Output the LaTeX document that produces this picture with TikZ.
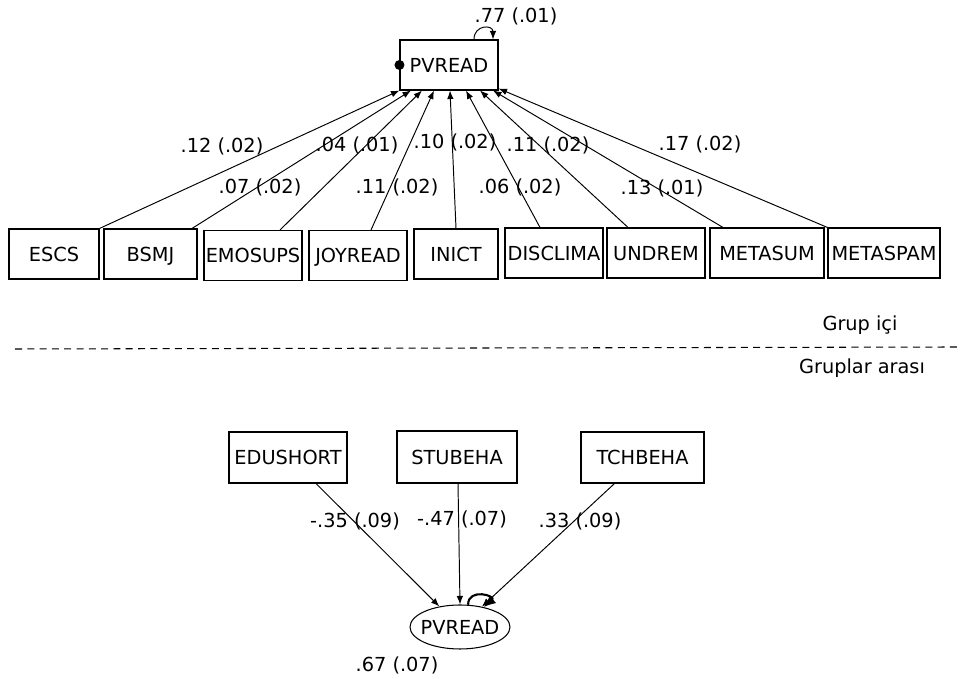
\documentclass[tikz,border=0pt]{standalone}
\usepackage{fontspec}
\setmainfont{DejaVu Sans}
\usepackage{tikz}
\usetikzlibrary{arrows.meta,positioning,calc,shapes.geometric}

\begin{document}
\begin{tikzpicture}[>={Latex[length=1.7mm,width=1.3mm]},every node/.style={font=\fontsize{11}{13}\selectfont},
  var/.style={draw,line width=0.6pt,minimum height=1cm,inner sep=1pt,text height=8pt,text depth=0pt},
  path/.style={->,line width=0.55pt}]
\useasboundingbox (0,0) rectangle (19.2,13.58);
% within level
\node[var,minimum width=1.96cm] (pv) at (8.98,12.28) {PVREAD};
\fill (pv.west) circle (0.1);
\draw[path] ($(pv.north)+(0.5,0)$) .. controls +(0,0.3) and +(0,0.3) .. ($(pv.north)+(0.88,0)$);
\node (r2w) at (10.32,13.26) {.77 (.01)};
\node[var,minimum width=1.8cm] (escs) at (1.08,8.5) {ESCS};
\node[var,minimum width=1.86cm] (bsmj) at (3.01,8.5) {BSMJ};
\node[var,minimum width=1.96cm] (emosups) at (5.06,8.47) {EMOSUPS};
\node[var,minimum width=1.96cm] (joyread) at (7.16,8.47) {JOYREAD};
\node[var,minimum width=1.68cm] (inict) at (9.12,8.5) {INICT};
\node[var,minimum width=1.96cm] (disclima) at (11.08,8.52) {DISCLIMA};
\node[var,minimum width=1.96cm] (undrem) at (13.12,8.52) {UNDREM};
\node[var,minimum width=2.28cm] (metasum) at (15.34,8.52) {METASUM};
\node[var,minimum width=2.24cm] (metaspam) at (17.68,8.52) {METASPAM};
\draw[path] (escs.north east) -- (pv.south west);
\draw[path] ($(bsmj.north)+(0.83,0)$) -- ($(pv.south)+(-0.76,0)$);
\draw[path] ($(emosups.north)+(0.54,0)$) -- ($(pv.south)+(-0.54,0)$);
\draw[path] ($(joyread.north)+(0.26,0)$) -- ($(pv.south)+(-0.3,0)$);
\draw[path] (inict.north) -- ($(pv.south)+(0.02,0)$);
\draw[path] ($(disclima.north)+(-0.28,0)$) -- ($(pv.south)+(0.34,0)$);
\draw[path] ($(undrem.north)+(-0.56,0)$) -- ($(pv.south)+(0.62,0)$);
\draw[path] ($(metasum.north)+(-0.88,0)$) -- ($(pv.south)+(0.88,0)$);
\draw[path] (metaspam.north west) -- ($(pv.south east)+(0,0.04)$);
\node (b1) at (4.44,10.66) {.12 (.02)};
\node (b3) at (7.14,10.68) {.04 (.01)};
\node (b5) at (9.1,10.74) {.10 (.02)};
\node (b7) at (10.96,10.68) {.11 (.02)};
\node (b9) at (14.0,10.7) {.17 (.02)};
\node (b2) at (5.2,9.84) {.07 (.02)};
\node (b4) at (7.94,9.84) {.11 (.02)};
\node (b6) at (10.4,9.84) {.06 (.02)};
\node (b8) at (13.24,9.82) {.13 (.01)};
% split
\node (within) at (17.2,7.08) {Grup içi};
\draw[dash pattern=on 4pt off 3pt,line width=0.6pt] (0.3,6.6) coordinate (dl) -- (19.2,6.64) coordinate (dr);
\node (between) at (17.24,6.22) {Gruplar arası};
% between level
\node[var,minimum width=2.36cm,minimum height=1.02cm] (edushort) at (5.76,4.43) {EDUSHORT};
\node[var,minimum width=2.4cm,minimum height=1.04cm] (stubeha) at (9.14,4.44) {STUBEHA};
\node[var,minimum width=2.46cm,minimum height=1.02cm] (tchbeha) at (12.85,4.43) {TCHBEHA};
\node[draw,ellipse,line width=0.6pt,minimum width=2cm,minimum height=0.88cm,inner xsep=-5pt,inner ysep=0pt] (pvb) at (9.2,1.04) {PVREAD};
\draw[path] ($(edushort.south)+(0.56,0)$) -- (pvb);
\draw[path] ($(stubeha.south)+(0.02,0)$) -- (pvb.north);
\draw[path] ($(tchbeha.south)+(-0.56,0)$) -- (pvb);
\draw[line width=1.2pt,-{Latex[length=2.4mm,width=2mm]}] (pvb.70) .. controls +(90:0.35) and +(40:0.35) .. (pvb.40);
\node (g1) at (7.1,3.16) {-.35 (.09)};
\node (g2) at (9.24,3.2) {-.47 (.07)};
\node (g3) at (11.6,3.16) {.33 (.09)};
\node (r2b) at (7.94,0.28) {.67 (.07)};
\end{tikzpicture}
\end{document}
